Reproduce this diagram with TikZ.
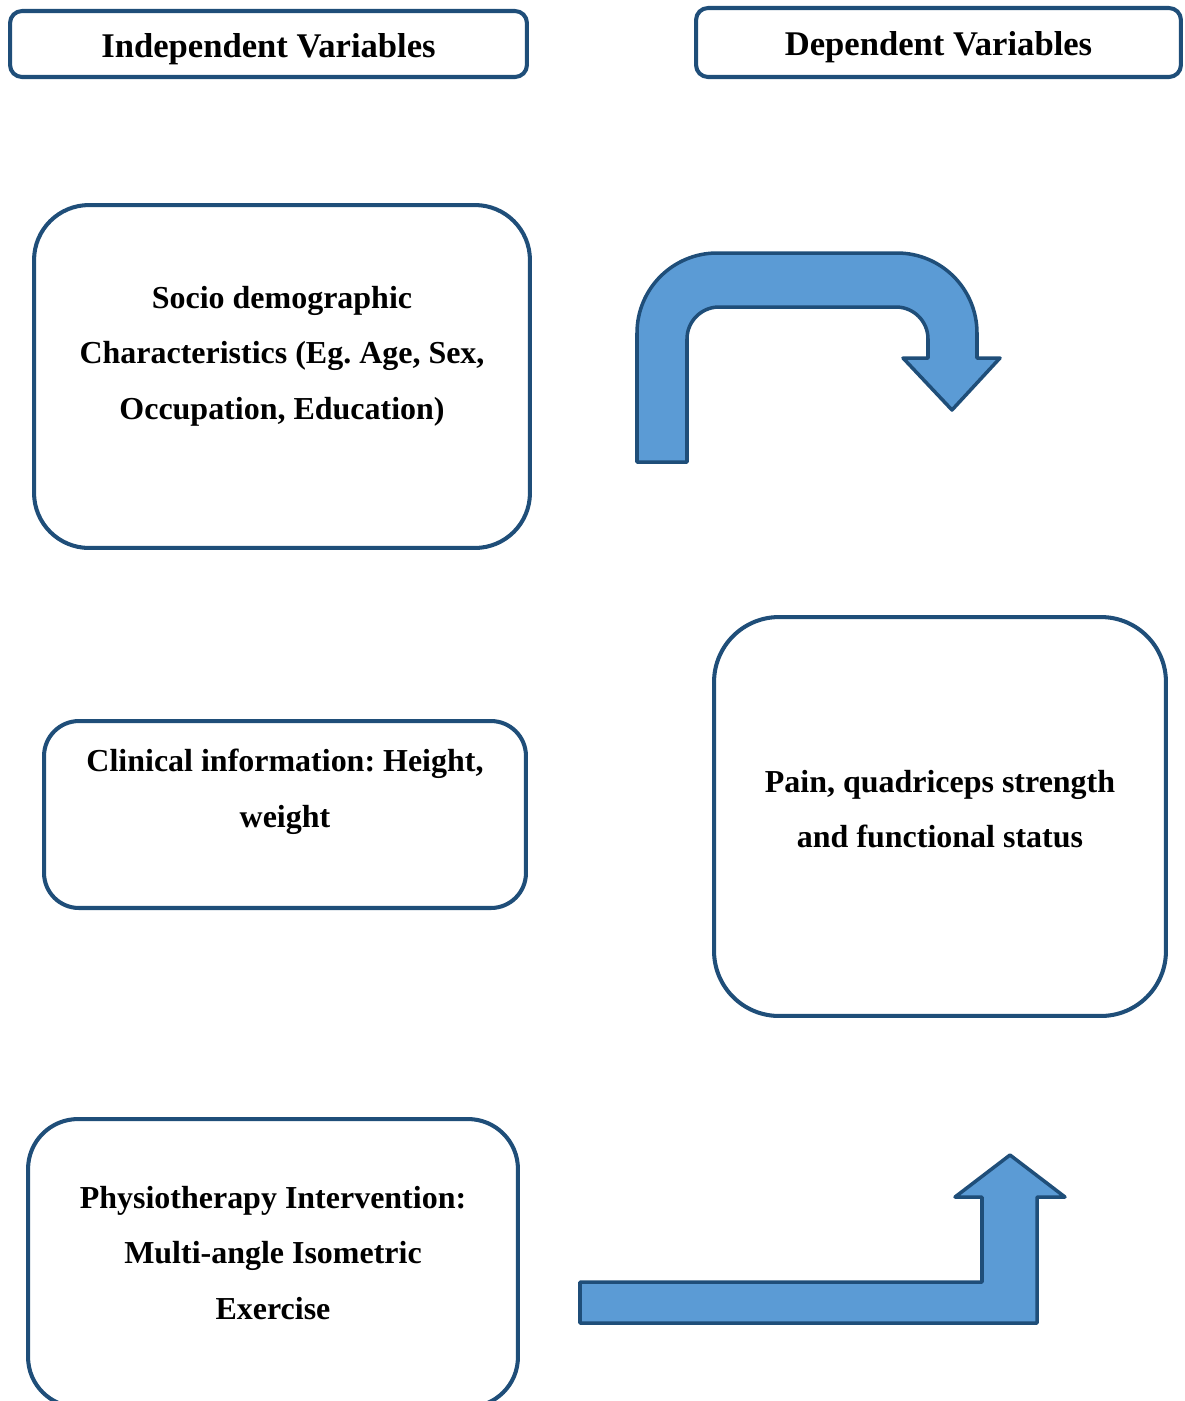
\documentclass[tikz,border=0pt]{standalone}
\usepackage{fontspec}
\setmainfont{Liberation Serif}
\usepackage{xcolor}
\usepackage{tikz}
\usetikzlibrary{positioning}
\definecolor{edgeblue}{HTML}{1F4E79}
\definecolor{fillblue}{HTML}{5B9BD5}
\frenchspacing

\begin{document}
\begin{tikzpicture}[x=0.02cm, y=0.02cm,
    head/.style={draw=edgeblue, line width=2.3pt, rounded corners=0.24cm, text height=0.52cm, text depth=0cm, font=\fontsize{19.7}{24}\selectfont\bfseries},
    box/.style={draw=edgeblue, line width=2.3pt},
    txt/.style={align=center, inner sep=0pt, font=\fontsize{18.2}{31.6}\selectfont\bfseries},
    bent/.style={draw=edgeblue, fill=fillblue, line width=2pt, line join=round}
]
\useasboundingbox (0,0) rectangle (1185,-1401);
\clip (0,0) rectangle (1185,-1401);

\node[head, minimum width=10.34cm, minimum height=1.32cm] (indep) at (268.5,-44) {Independent Variables};
\node[head, minimum width=9.7cm, minimum height=1.38cm] (dep) at (938.5,-42.5) {Dependent Variables};

\node[box, rounded corners=1.1cm, minimum width=9.92cm, minimum height=6.86cm] (socio) at (282,-376.5) {};
\node[txt] (sociotext) at (282,-356) {Socio demographic\\ Characteristics (Eg. Age, Sex,\\ Occupation, Education)};

\node[box, rounded corners=0.7cm, minimum width=9.64cm, minimum height=3.74cm] (clinical) at (285,-814.5) {};
\node[txt] (clinicaltext) at (285,-792) {Clinical information: Height,\\ weight};

\node[box, rounded corners=1.3cm, minimum width=9.04cm, minimum height=7.98cm] (pain) at (940,-816.5) {};
\node[txt] (paintext) at (940,-809) {Pain, quadriceps strength\\ and functional status};

\node[box, rounded corners=1.0cm, minimum width=9.8cm, minimum height=5.76cm] (physio) at (273,-1263) {};
\node[txt] (physiotext) at (273,-1253) {Physiotherapy Intervention:\\ Multi-angle Isometric\\ Exercise};

\draw[bent] (637,-462) -- (637,-333) arc[start angle=180, end angle=90, radius=80] -- (897,-253)
    arc[start angle=90, end angle=0, radius=80] -- (977,-358) -- (1000,-358) -- (952,-410) -- (903,-358) -- (928,-358) -- (928,-339)
    arc[start angle=0, end angle=90, radius=32] -- (719,-307) arc[start angle=90, end angle=180, radius=32] -- (687,-462) -- cycle;
\draw[bent] (580,-1282) -- (982,-1282) -- (982,-1197) -- (955,-1197) -- (1010,-1155) -- (1065,-1197) -- (1037,-1197) -- (1037,-1323) -- (580,-1323) -- cycle;
\end{tikzpicture}
\end{document}
